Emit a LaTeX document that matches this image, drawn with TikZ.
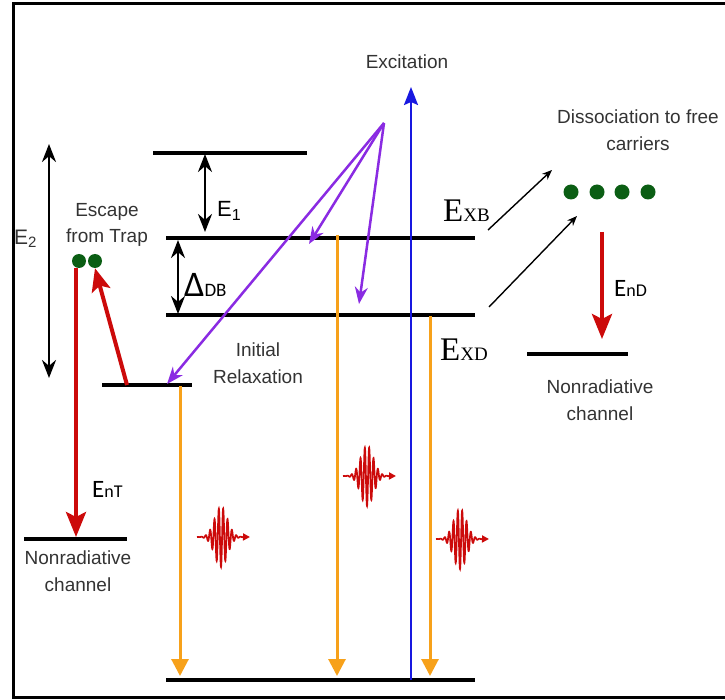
\documentclass[tikz,border=0pt]{standalone}
\usepackage{fontspec}
\setmainfont{Liberation Sans}
\newfontfamily\serifE{Liberation Serif}
\newfontfamily\calib{Carlito}
\usetikzlibrary{arrows.meta}
\definecolor{myorange}{HTML}{F7A11A}
\definecolor{myred}{HTML}{CC0A0A}
\definecolor{mypurple}{HTML}{8A2BE2}
\definecolor{myblue}{HTML}{1818E0}
\definecolor{mygreen}{HTML}{0B5E14}
\definecolor{txtgray}{HTML}{333333}
\newcommand\fs[1]{\fontsize{#1}{#1}\selectfont}
\tikzset{
  level/.style={line width=3.2pt, black},
  dbl/.style={line width=2.6pt, black, {Stealth[length=18pt,width=14pt]}-{Stealth[length=18pt,width=14pt]}},
  relax/.style={line width=2.5pt, mypurple, -{Stealth[length=17pt,width=13pt]}},
  emis/.style={line width=3pt, myorange, -{Triangle[length=17pt,width=17pt]}},
  nonrad/.style={line width=4pt, myred, -{Stealth[length=25pt,width=20pt,inset=5pt]}},
  excit/.style={line width=2.4pt, myblue, -{Stealth[length=18pt,width=14pt,inset=3pt]}},
  thinarr/.style={line width=1.4pt, black, -{Stealth[length=10pt,width=8pt]}},
  wave/.style={line width=1.7pt, myred},
  dot/.style={circle, fill=mygreen, inner sep=0pt, minimum size=14pt},
  lbl/.style={font=\fs{19}\linespread{1.4}\selectfont, text=txtgray, align=center, inner sep=0pt},
  mlbl/.style={inner sep=0pt, anchor=base west}
}
\begin{document}
\begin{tikzpicture}[x=1pt,y=-1pt]
\useasboundingbox (0,0) rectangle (725,700);
% frame
\draw[line width=3pt] (725,4) -- (13,4) -- (13,697) -- (725,697);

% level end points
\coordinate (topL) at (153,153); \coordinate (topR) at (307,153);
\coordinate (xbL) at (166,238); \coordinate (xbR) at (475,238);
\coordinate (xdL) at (166,315); \coordinate (xdR) at (475,315);
\coordinate (trL) at (102,385); \coordinate (trR) at (192,385);
\coordinate (gL) at (166,680); \coordinate (gR) at (475,680);
\coordinate (nlL) at (24,539); \coordinate (nlR) at (127,539);
\coordinate (nrL) at (527,354); \coordinate (nrR) at (628,354);

\draw[level] (topL) -- (topR);
\draw[level] (xbL) -- (xbR);
\draw[level] (xdL) -- (xdR);
\draw[level] (trL) -- (trR);
\draw[level] (gL) -- (gR);
\draw[level] (nlL) -- (nlR);
\draw[level] (nrL) -- (nrR);

% energy spacing arrows
\coordinate (e2a) at (49,144); \coordinate (e2b) at (49,378);
\draw[dbl] (e2a) -- (e2b);
\coordinate (e1a) at (205,154); \coordinate (e1b) at (205,232);
\draw[dbl] (e1a) -- (e1b);
\coordinate (dba) at (178,240); \coordinate (dbb) at (178,314);
\draw[dbl] (dba) -- (dbb);

\node[mlbl, text=txtgray] (E2) at (14,245) {\fs{21}E\raisebox{-3pt}{\fs{15}2}};
\node[mlbl] (E1) at (217,217) {\fs{22}E\raisebox{-4pt}{\fs{16}1}};
\node[mlbl] (DDB) at (184,297) {\calib\fs{36}Δ\fs{19}DB};

% emission arrows
\coordinate (o1a) at (180,386); \coordinate (o1b) at (180,676);
\coordinate (o2a) at (337,235); \coordinate (o2b) at (337,676);
\coordinate (o3a) at (430,316); \coordinate (o3b) at (430,676);
\draw[emis] (o1a) -- (o1b);
\draw[emis] (o2a) -- (o2b);
\draw[emis] (o3a) -- (o3b);

% excitation
\coordinate (exA) at (411,680); \coordinate (exB) at (411,87);
\draw[excit] (exA) -- (exB);
\node[lbl] (excT) at (407,62) {Excitation};

% relaxation
\coordinate (apex) at (384,123);
\coordinate (r1) at (167,384); \coordinate (r2) at (309,244); \coordinate (r3) at (359,304);
\draw[relax] (apex) -- (r1);
\draw[relax] (apex) -- (r2);
\draw[relax] (apex) -- (r3);
\node[lbl] (relT) at (258,363.5) {Initial\\Relaxation};

% trap escape
\node[dot] (d1) at (79,261) {};
\node[dot] (d2) at (95,261) {};
\node[lbl] (escT) at (107,225) {Escape\\from Trap};
\coordinate (ntEnd) at (76,537);
\draw[nonrad] (d1.south -| ntEnd) -- (ntEnd);
\coordinate (esc0) at (127,385);
\draw[nonrad, -{Stealth[length=23pt,width=19pt,inset=5pt]}] (esc0) -- (d2.south);
\node[mlbl] (EnT) at (92,497) {\calib\fs{25}E\fs{18}nT};
\node[lbl] (nlT) at (78,571) {Nonradiative\\channel};

% labels of exciton levels
\node[mlbl] (EXB) at (443,222) {\serifE\fs{33}E\fs{19}XB};
\node[mlbl] (EXD) at (440,360) {\serifE\fs{33}E\fs{19}XD};

% dissociation
\node[dot, minimum size=15pt] (c1) at (571,192) {};
\node[dot, minimum size=15pt] (c2) at (597,192) {};
\node[dot, minimum size=15pt] (c3) at (622,192) {};
\node[dot, minimum size=15pt] (c4) at (648,192) {};
\node[lbl] (disT) at (638,130) {Dissociation to free\\carriers};
\coordinate (t1a) at (488,230); \coordinate (t1b) at (552,170);
\coordinate (t2a) at (489,307); \coordinate (t2b) at (577,216);
\draw[thinarr] (t1a) -- (t1b);
\draw[thinarr] (t2a) -- (t2b);
\coordinate (ndA) at (602,232); \coordinate (ndB) at (602,339);
\draw[nonrad] (ndA) -- (ndB);
\node[mlbl] (EnD) at (614,297) {\calib\fs{25}E\fs{18}nD};
\node[lbl] (nrT) at (600,400) {Nonradiative\\channel};

% wave packets
\foreach \cx/\cy in {221/537, 367/476, 460/539} {
  \draw[wave, -{Triangle[length=7pt,width=7pt]}]
    plot[domain=-1:1, samples=400] ({\cx+24*\x},{\cy+30*exp(-(\x/0.38)^2)*cos(\x*360*5.5)})
    -- ({\cx+29},\cy);
}
\end{tikzpicture}
\end{document}
